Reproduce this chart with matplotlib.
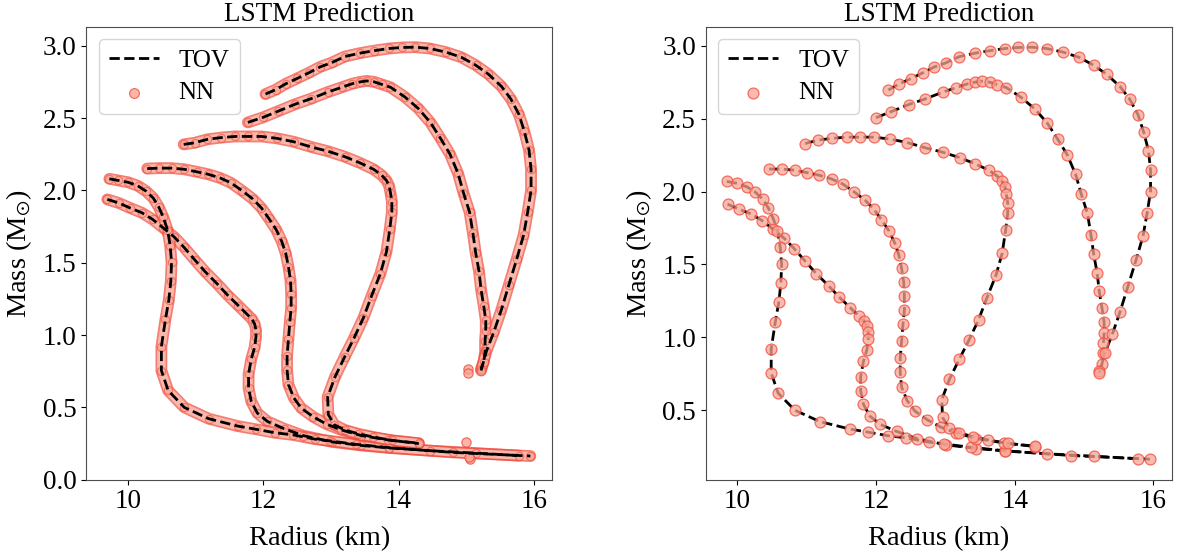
import matplotlib
matplotlib.use("Agg")
import matplotlib.pyplot as plt
import matplotlib.patheffects as pe

plt.rcParams['font.family'] = ['Liberation Serif', 'DejaVu Serif']
plt.rcParams['mathtext.fontset'] = 'stix'

# ---- mass-radius curves (Radius km, Mass Msun) ----
A_R = [9.86, 10.03, 10.20, 10.36, 10.52, 10.68, 10.82, 10.98, 11.14, 11.32, 11.47, 11.63,
       11.76, 11.83, 11.87, 11.89, 11.89, 11.87, 11.82, 11.78, 11.78, 11.82, 11.91, 12.06,
       12.30, 12.59, 13.01, 13.45, 13.86, 14.46, 15.15, 15.78]
A_M = [1.913, 1.878, 1.846, 1.800, 1.740, 1.678, 1.609, 1.522, 1.437, 1.352, 1.276, 1.203,
       1.143, 1.111, 1.076, 1.035, 0.989, 0.916, 0.835, 0.730, 0.633, 0.541, 0.461, 0.403,
       0.354, 0.305, 0.262, 0.237, 0.220, 0.201, 0.184, 0.167]

B_R = [9.85, 10.00, 10.14, 10.26, 10.37, 10.45, 10.52, 10.58, 10.62, 10.64, 10.63, 10.60,
       10.55, 10.49, 10.49, 10.59, 10.83, 11.19, 11.62, 11.89, 12.17, 12.44, 12.76, 12.98,
       13.37, 13.86, 14.81, 15.95]
B_M = [2.069, 2.056, 2.032, 1.996, 1.947, 1.886, 1.813, 1.728, 1.619, 1.502, 1.375, 1.242,
       1.108, 0.921, 0.755, 0.617, 0.500, 0.422, 0.371, 0.349, 0.325, 0.310, 0.281, 0.269,
       0.245, 0.222, 0.189, 0.164]

C_R = [10.46, 10.64, 10.83, 11.01, 11.18, 11.36, 11.52, 11.69, 11.84, 11.97, 12.08, 12.19,
       12.27, 12.33, 12.37, 12.40, 12.41, 12.41, 12.39, 12.37, 12.35, 12.35, 12.37, 12.45,
       12.56, 12.74, 12.94, 13.15, 13.45, 13.85, 14.30]
C_M = [2.154, 2.154, 2.146, 2.129, 2.112, 2.086, 2.052, 1.996, 1.942, 1.879, 1.806, 1.728,
       1.648, 1.565, 1.473, 1.380, 1.283, 1.186, 1.089, 0.974, 0.857, 0.760, 0.658, 0.566,
       0.495, 0.434, 0.383, 0.345, 0.305, 0.275, 0.250]

D_R = [10.98, 11.17, 11.37, 11.58, 11.77, 11.97, 12.20, 12.45, 12.71, 12.96, 13.21, 13.43,
       13.63, 13.75, 13.82, 13.86, 13.88, 13.90, 13.90, 13.87, 13.82, 13.73, 13.60, 13.48,
       13.34, 13.20, 13.06, 12.95, 12.96, 13.05, 13.20, 13.40, 13.62, 13.90, 14.30]
D_M = [2.329, 2.353, 2.365, 2.373, 2.373, 2.373, 2.360, 2.336, 2.300, 2.270, 2.232, 2.190,
       2.146, 2.105, 2.069, 2.032, 1.983, 1.923, 1.850, 1.733, 1.575, 1.424, 1.271, 1.120,
       0.979, 0.848, 0.712, 0.573, 0.451, 0.380, 0.345, 0.318, 0.296, 0.272, 0.253]

E_R = [12.00, 12.22, 12.47, 12.71, 12.96, 13.16, 13.31, 13.43, 13.53, 13.64, 13.75, 13.88,
       14.09, 14.29, 14.47, 14.62, 14.76, 14.88, 14.96, 15.05, 15.10, 15.14, 15.19, 15.22,
       15.26, 15.29, 15.29, 15.28, 15.28, 15.26, 15.22]
E_M = [2.506, 2.548, 2.596, 2.635, 2.681, 2.713, 2.737, 2.750, 2.757, 2.750, 2.733, 2.713,
       2.647, 2.567, 2.470, 2.360, 2.251, 2.117, 1.983, 1.850, 1.704, 1.570, 1.441, 1.315,
       1.200, 1.103, 1.028, 0.962, 0.889, 0.816, 0.768]

F_R = [12.18, 12.33, 12.50, 12.68, 12.84, 13.01, 13.20, 13.43, 13.64, 13.86, 14.05, 14.25,
       14.46, 14.70, 14.93, 15.14, 15.33, 15.52, 15.66, 15.78, 15.86, 15.93, 15.96, 15.96,
       15.91, 15.85, 15.75, 15.63, 15.52, 15.41, 15.30, 15.22]
F_M = [2.696, 2.737, 2.774, 2.815, 2.854, 2.883, 2.925, 2.949, 2.966, 2.981, 2.988, 2.990,
       2.981, 2.956, 2.920, 2.866, 2.803, 2.720, 2.633, 2.526, 2.409, 2.280, 2.146, 2.000,
       1.850, 1.692, 1.529, 1.344, 1.174, 1.023, 0.889, 0.755]

# extra high-density starting points present in the left panel only (A..F)
left_start_R = [9.69, 9.72, 10.28, 10.82, 11.77, 12.03]
left_start_M = [1.938, 2.080, 2.151, 2.318, 2.470, 2.666]

# outlying NN predictions in the left panel
left_out_R = [15.02, 15.02, 14.99, 15.05, 15.04]
left_out_M = [0.766, 0.741, 0.263, 0.143, 0.160]

curves = [(A_R, A_M), (B_R, B_M), (C_R, C_M), (D_R, D_M), (E_R, E_M), (F_R, F_M)]

title = "LSTM Prediction"
xlabel = "Radius (km)"
ylabel = r"Mass (M$_{\odot}$)"

face = '#f9a494'
edge = '#f0483a'

fig = plt.figure(figsize=(11.8, 5.54), dpi=100)
axL = fig.add_axes([0.073, 0.134, 0.395, 0.818])
axR = fig.add_axes([0.598, 0.134, 0.395, 0.818])

# left panel: dense NN predictions
for i, (r, m) in enumerate(curves):
    rr = [left_start_R[i]] + list(r)
    mm = [left_start_M[i]] + list(m)
    axL.plot(rr, mm, color='#fbb8aa', lw=6.0, solid_capstyle='round', solid_joinstyle='round',
             path_effects=[pe.Stroke(linewidth=8.5, foreground=edge, alpha=0.7), pe.Normal()],
             zorder=1)
    axL.scatter(rr, mm, s=36, facecolor=face, edgecolor=edge, linewidth=0.8, alpha=0.6, zorder=2)
axL.scatter(left_out_R, left_out_M, s=45, facecolor=face, edgecolor=edge, linewidth=0.8,
            alpha=0.8, zorder=2)
for i, (r, m) in enumerate(curves):
    rr = [left_start_R[i]] + list(r)
    mm = [left_start_M[i]] + list(m)
    axL.plot(rr, mm, color='black', lw=2, ls=(0, (3.7, 1.6)), zorder=3,
             label='TOV' if i == 0 else None)
axL.scatter([], [], s=50, facecolor=face, edgecolor=edge, linewidth=0.8, alpha=0.8, label='NN')
axL.set_ylim(bottom=0)

# right panel: sparse NN predictions
for i, (r, m) in enumerate(curves):
    axR.plot(r, m, color='black', lw=2, ls=(0, (3.7, 1.6)), zorder=2,
             label='TOV' if i == 0 else None)
    axR.scatter(r, m, s=62, facecolor=face, edgecolor=edge, linewidth=0.9, alpha=0.75,
                zorder=3, label='NN' if i == 0 else None)

for ax in (axL, axR):
    ax.set_title(title, fontsize=19.5, pad=4)
    ax.set_xlabel(xlabel, fontsize=20.5, labelpad=8)
    ax.set_ylabel(ylabel, fontsize=20.5, labelpad=6)
    ax.tick_params(labelsize=19.5)
    ax.set_xticks([10, 12, 14, 16])
    ax.set_yticks([0.0, 0.5, 1.0, 1.5, 2.0, 2.5, 3.0] if ax is axL else [0.5, 1.0, 1.5, 2.0, 2.5, 3.0])
    ax.yaxis.set_major_formatter(matplotlib.ticker.FormatStrFormatter('%.1f'))
    for s in ax.spines.values():
        s.set_color('0.3')
    ax.legend(loc='upper left', fontsize=18, borderpad=0.4, handletextpad=0.8,
              labelspacing=0.4)

fig.savefig('out.png', dpi=100)
